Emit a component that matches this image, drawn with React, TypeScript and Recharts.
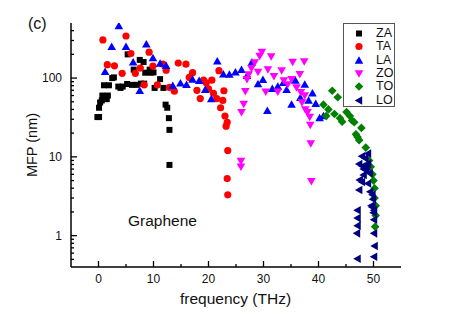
import React from "react";
import { Scatter, ScatterChart, XAxis, YAxis } from "recharts";

// [frequency THz, MFP nm]
const za = [
  [-0.2, 32], [0.1, 32], [0.1, 42], [0.3, 49], [0.6, 52], [0.7, 60], [0.9, 56], [1.0, 81],
  [1.5, 54], [1.7, 60], [1.9, 81], [2.5, 100], [2.8, 102], [3.6, 78], [4.0, 75], [4.4, 78],
  [5.2, 84], [5.3, 200], [6.1, 82], [6.4, 128], [6.9, 82], [7.5, 170], [7.7, 85], [8.2, 160],
  [8.3, 85], [8.5, 117], [9.3, 128], [9.5, 117], [10.0, 118], [10.2, 75], [11.2, 97],
  [11.8, 75], [12.2, 46], [12.5, 42], [12.8, 31], [12.9, 22], [12.9, 7.9],
];
const ta = [
  [0.8, 305], [1.6, 148], [2.9, 143], [4.3, 115], [5.0, 342], [5.9, 205], [6.7, 115],
  [7.6, 134], [8.3, 82], [9.2, 213], [9.9, 142], [10.7, 82], [11.7, 150], [12.3, 126],
  [12.9, 76], [13.8, 68], [14.5, 155], [15.9, 150], [16.5, 102], [17.1, 117], [17.9, 70],
  [18.5, 55], [19.1, 94], [19.6, 87], [20.0, 73], [20.6, 94], [20.9, 64], [21.5, 55],
  [21.9, 124], [22.2, 42], [22.6, 52], [22.8, 69], [23.0, 33], [23.2, 24.5], [23.4, 27.5],
  [23.5, 12], [23.4, 5.3], [23.5, 3.3],
];
const la = [
  [1.2, 120], [2.4, 249], [3.7, 458], [5.0, 250], [6.3, 158], [7.5, 69], [8.7, 269],
  [9.9, 179], [11.2, 153], [12.3, 143], [13.5, 80], [14.9, 86], [16.0, 82], [17.1, 96],
  [18.3, 92], [19.4, 71], [20.5, 54], [21.6, 163], [22.7, 112], [23.8, 111], [24.9, 118],
  [26.0, 127], [27.0, 107], [27.9, 158], [29.0, 84], [29.9, 95], [30.7, 38.5], [31.6, 73],
  [32.6, 78], [33.6, 87], [34.2, 71], [35.1, 46], [35.8, 93], [36.7, 56], [37.5, 83],
  [38.2, 52], [38.9, 64], [39.5, 47], [40.2, 31], [40.9, 33],
];
const zo = [
  [25.9, 8.9], [25.9, 7.5], [26.0, 37], [26.4, 47], [26.7, 68], [27.0, 97], [27.3, 111],
  [27.8, 133], [28.4, 158], [29.0, 120], [29.3, 191], [29.7, 215], [30.4, 67], [30.8, 129],
  [31.4, 188], [31.9, 106], [32.6, 67], [33.3, 125], [33.7, 93], [34.4, 83], [35.1, 97],
  [35.3, 160], [36.0, 76], [36.6, 112], [36.8, 66], [37.0, 49], [37.4, 162], [37.5, 60],
  [37.6, 40], [38.0, 37], [38.4, 32], [38.5, 25.5], [38.6, 14.8], [38.7, 4.9],
];
const to = [
  [40.9, 46], [41.4, 33], [41.8, 40], [42.5, 69], [42.9, 35], [43.5, 57], [43.9, 31],
  [44.3, 28], [45.1, 37], [45.7, 33], [46.1, 29], [46.5, 27.5], [46.8, 19.3], [47.1, 17.9],
  [47.4, 16.3], [47.8, 23.3], [48.6, 13.1], [49.2, 9], [49.5, 7.5], [49.8, 6], [50.0, 5],
  [50.2, 4], [50.2, 3], [50.4, 2.4], [50.4, 1.8], [50.3, 1.3],
];
const lo = [
  [47.9, 10.2], [48.5, 9.6], [49.0, 11], [47.4, 8.1], [48.0, 7.6], [48.8, 7.6], [49.0, 8.2],
  [48.2, 7.0], [48.7, 6.8], [49.3, 6.2], [48.2, 5.9], [47.5, 5.1], [47.9, 4.8], [49.0, 4.6],
  [47.4, 3.8], [49.4, 3.6], [49.8, 3.3], [49.9, 2.9], [49.6, 2.4], [49.8, 2.3], [50.1, 2.1],
  [47.1, 2.1], [50.0, 1.95], [47.1, 1.67], [50.1, 1.59], [47.1, 1.34], [47.0, 1.07],
  [50.1, 1.07], [50.2, 0.74], [50.1, 0.54], [47.1, 0.51],
];

const xTicks = [0, 5, 10, 15, 20, 25, 30, 35, 40, 45, 50];
const xMajor = [0, 10, 20, 30, 40, 50];
const yTicks = [
  0.5, 0.6, 0.7, 0.8, 0.9, 1, 2, 3, 4, 5, 6, 7, 8, 9, 10,
  20, 30, 40, 50, 60, 70, 80, 90, 100, 200, 300, 400,
];
const yMajor = [1, 10, 100];

const toPts = (arr: number[][]) => arr.map(([x, y]) => ({ x, y }));

const font = "'Liberation Sans', Arial, sans-serif";
const ink = "#111";

const BottomTick = (p: any) => {
  const major = xMajor.includes(p.payload.value);
  return (
    <g>
      <line x1={p.x} x2={p.x} y1={p.y} y2={p.y - (major ? 6 : 3)} stroke="#000" strokeWidth={1.3} />
      {major && (
        <text x={p.x} y={p.y + 16} textAnchor="middle" fontSize={12} fontFamily={font} fill={ink}>
          {p.payload.value}
        </text>
      )}
    </g>
  );
};

const TopTick = (p: any) => {
  const major = xMajor.includes(p.payload.value);
  return <line x1={p.x} x2={p.x} y1={p.y} y2={p.y + (major ? 6 : 3)} stroke="#000" strokeWidth={1.3} />;
};

const LeftTick = (p: any) => {
  const major = yMajor.includes(p.payload.value);
  return (
    <g>
      <line x1={p.x} x2={p.x + (major ? 6 : 3)} y1={p.y} y2={p.y} stroke="#000" strokeWidth={1.3} />
      {major && (
        <text x={p.x - 9} y={p.y + 4} textAnchor="end" fontSize={12} fontFamily={font} fill={ink}>
          {p.payload.value}
        </text>
      )}
    </g>
  );
};

const RightTick = (p: any) => {
  const major = yMajor.includes(p.payload.value);
  return <line x1={p.x} x2={p.x - (major ? 6 : 3)} y1={p.y} y2={p.y} stroke="#000" strokeWidth={1.3} />;
};

const sq = (c: string) => (p: any) => <rect x={p.cx - 3} y={p.cy - 3} width={6} height={6} fill={c} />;
const ci = (c: string) => (p: any) => <circle cx={p.cx} cy={p.cy} r={3.6} fill={c} />;
const up = (c: string) => (p: any) => (
  <polygon points={`${p.cx},${p.cy - 4.3} ${p.cx - 4.3},${p.cy + 3.2} ${p.cx + 4.3},${p.cy + 3.2}`} fill={c} />
);
const down = (c: string) => (p: any) => (
  <polygon points={`${p.cx},${p.cy + 4.3} ${p.cx - 4.3},${p.cy - 3.2} ${p.cx + 4.3},${p.cy - 3.2}`} fill={c} />
);
const dia = (c: string) => (p: any) => (
  <polygon points={`${p.cx},${p.cy - 4.3} ${p.cx + 4.3},${p.cy} ${p.cx},${p.cy + 4.3} ${p.cx - 4.3},${p.cy}`} fill={c} />
);
const left = (c: string) => (p: any) => (
  <polygon points={`${p.cx - 4.3},${p.cy} ${p.cx + 3.2},${p.cy - 4.3} ${p.cx + 3.2},${p.cy + 4.3}`} fill={c} />
);

const series = [
  { name: "ZA", data: za, color: "#000000", shape: sq },
  { name: "TA", data: ta, color: "#ff0000", shape: ci },
  { name: "LA", data: la, color: "#0000ff", shape: up },
  { name: "ZO", data: zo, color: "#ff00ff", shape: down },
  { name: "TO", data: to, color: "#008000", shape: dia },
  { name: "LO", data: lo, color: "#000080", shape: left },
];

const axisLine = { stroke: "#000", strokeWidth: 1.5 };

export default function App() {
  return (
    <div style={{ position: "absolute", left: 0, top: 0, width: 471, height: 319, background: "#fff" }}>
      <ScatterChart width={471} height={319} margin={{ top: 23, right: 70, bottom: 0, left: 0 }}>
        <XAxis
          xAxisId="b" type="number" dataKey="x" domain={[-5, 55]} allowDataOverflow
          ticks={xTicks} interval={0} tickSize={0} tickMargin={0} tickLine={false}
          tick={BottomTick} height={52} axisLine={axisLine}
        />
        <XAxis
          xAxisId="t" orientation="top" mirror type="number" domain={[-5, 55]} allowDataOverflow
          ticks={xTicks} interval={0} tickSize={0} tickMargin={0} tickLine={false}
          tick={TopTick} height={0} axisLine={axisLine}
        />
        <YAxis
          yAxisId="l" type="number" dataKey="y" scale="log" domain={[0.4, 500]} allowDataOverflow
          ticks={yTicks} interval={0} tickSize={0} tickMargin={0} tickLine={false}
          tick={LeftTick} width={71} axisLine={axisLine}
        />
        <YAxis
          yAxisId="r" orientation="right" mirror type="number" scale="log" domain={[0.4, 500]} allowDataOverflow
          ticks={yTicks} interval={0} tickSize={0} tickMargin={0} tickLine={false}
          tick={RightTick} width={0} axisLine={axisLine}
        />
        {series.map((s) => (
          <Scatter
            key={s.name} name={s.name} xAxisId="b" yAxisId="l" data={toPts(s.data)}
            fill={s.color} shape={s.shape(s.color)} isAnimationActive={false}
          />
        ))}
      </ScatterChart>

      <div style={{ position: "absolute", left: 28, top: 15, fontFamily: font, fontSize: 16, color: ink }}>(c)</div>
      <div style={{ position: "absolute", left: 128, top: 212, fontFamily: font, fontSize: 15.5, color: ink }}>Graphene</div>
      <div style={{ position: "absolute", left: 0, top: 290, width: 471, textAlign: "center", fontFamily: font, fontSize: 15.5, color: ink }}>
        frequency (THz)
      </div>
      <div
        style={{
          position: "absolute", left: 32, top: 145, fontFamily: font, fontSize: 14.5, color: ink,
          transform: "translate(-50%, -50%) rotate(-90deg)", whiteSpace: "nowrap",
        }}
      >
        MFP (nm)
      </div>

      <div
        style={{
          position: "absolute", left: 343, top: 23, width: 50, height: 82,
          border: "1px solid #555", background: "#fff", fontFamily: font, fontSize: 12.5, color: ink,
        }}
      >
        {series.map((s, i) => (
          <div key={s.name} style={{ position: "absolute", left: 0, top: 3 + i * 13.3, height: 13, width: 50 }}>
            <svg width={14} height={13} style={{ position: "absolute", left: 8, top: 0 }}>
              {s.shape(s.color)({ cx: 7, cy: 6.5 })}
            </svg>
            <span style={{ position: "absolute", left: 32, top: -1, lineHeight: "15px" }}>{s.name}</span>
          </div>
        ))}
      </div>
    </div>
  );
}
